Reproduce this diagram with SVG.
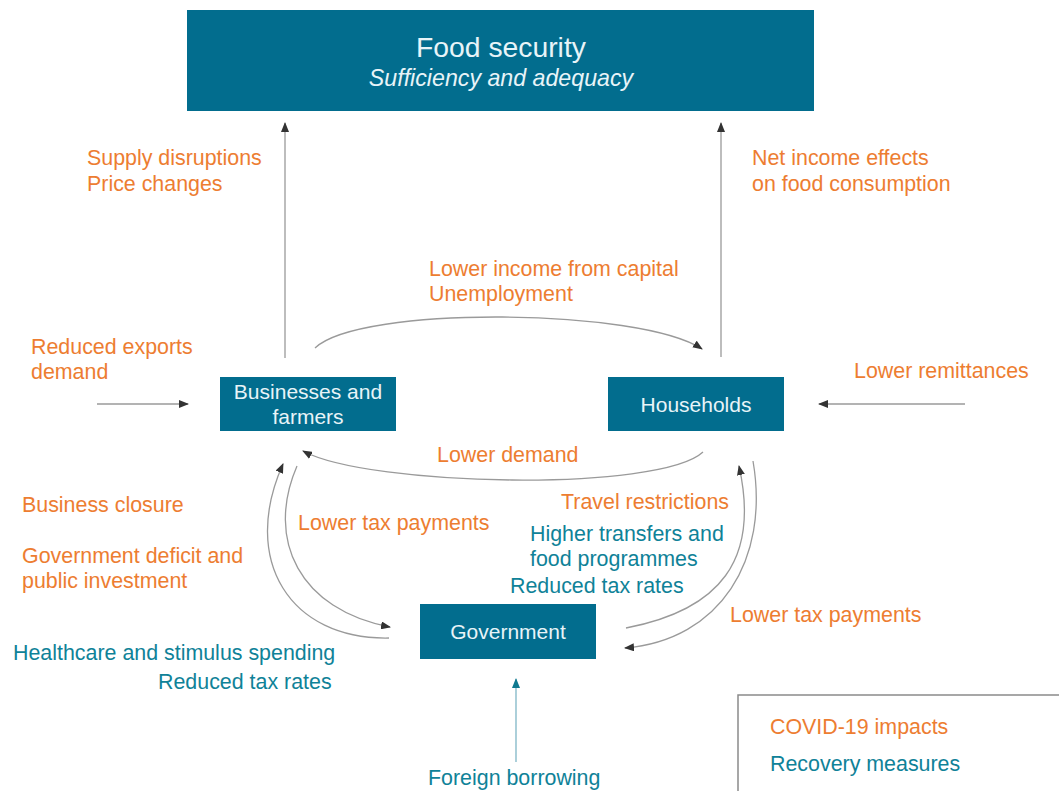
<svg xmlns="http://www.w3.org/2000/svg" width="1059" height="791" viewBox="0 0 1059 791">
<style>
.box{fill:#026d8e}
.bt{font-family:"Liberation Sans",Arial,sans-serif;font-size:21px;fill:#e8f4f8;text-anchor:middle}
.o{font-family:"Liberation Sans",Arial,sans-serif;font-size:21.4px;fill:#ed7d31}
.t{font-family:"Liberation Sans",Arial,sans-serif;font-size:21.4px;fill:#0f8298}
.c{fill:none;stroke:#9a9a9a;stroke-width:1.3}
</style>
<defs>
<marker id="ah" markerUnits="userSpaceOnUse" markerWidth="10" markerHeight="8" refX="9" refY="4" orient="auto">
<path d="M0,0 L10,4 L0,8 Z" fill="#333"/>
</marker>
<marker id="aht" markerUnits="userSpaceOnUse" markerWidth="10" markerHeight="8" refX="9" refY="4" orient="auto">
<path d="M0,0 L10,4 L0,8 Z" fill="#0f7a90"/>
</marker>
</defs>
<rect width="1059" height="791" fill="#fff"/>

<g id="food-security">
<rect class="box" x="187" y="10" width="627" height="101"/>
<text x="501" y="57" style="font-family:'Liberation Sans',Arial,sans-serif;font-size:28.3px;fill:#e8f4f8;text-anchor:middle">Food security</text>
<text x="501" y="86" style="font-family:'Liberation Sans',Arial,sans-serif;font-size:23.2px;font-style:italic;fill:#e8f4f8;text-anchor:middle">Sufficiency and adequacy</text>
</g>

<g id="businesses">
<rect class="box" x="220" y="377" width="176" height="54"/>
<text class="bt" x="308" y="399">Businesses and</text>
<text class="bt" x="308" y="424">farmers</text>
</g>

<g id="households">
<rect class="box" x="608" y="377" width="176" height="54"/>
<text class="bt" x="696" y="412">Households</text>
</g>

<g id="government">
<rect class="box" x="420" y="604" width="176" height="55"/>
<text class="bt" x="508" y="639">Government</text>
</g>

<g id="connectors">
<path class="c" d="M285,358 L285,123" marker-end="url(#ah)"/>
<path class="c" d="M721,357 L721,123" marker-end="url(#ah)"/>
<path class="c" d="M315,348 C360,305 640,308 702,349" marker-end="url(#ah)"/>
<path class="c" d="M703,452 C660,492 370,487 303,451" marker-end="url(#ah)"/>
<path class="c" d="M97,404 L188,404" marker-end="url(#ah)"/>
<path class="c" d="M965,404 L819,404" marker-end="url(#ah)"/>
<path class="c" d="M389,638 C290,640 240,560 283,464" marker-end="url(#ah)"/>
<path class="c" d="M297,466 C265,540 300,610 390,627" marker-end="url(#ah)"/>
<path class="c" d="M626,628 C720,610 760,560 739,466" marker-end="url(#ah)"/>
<path class="c" d="M753,461 C770,560 720,640 625,648" marker-end="url(#ah)"/>
<path d="M516,762 L516,679" fill="none" stroke="#7fb6c6" stroke-width="1.3" marker-end="url(#aht)"/>
</g>

<g id="labels">
<text class="o" x="87" y="165">Supply disruptions</text>
<text class="o" x="87" y="191">Price changes</text>
<text class="o" x="752" y="165">Net income effects</text>
<text class="o" x="752" y="191">on food consumption</text>
<text class="o" x="429" y="276">Lower income from capital</text>
<text class="o" x="429" y="301">Unemployment</text>
<text class="o" x="31" y="354">Reduced exports</text>
<text class="o" x="31" y="379">demand</text>
<text class="o" x="854" y="378">Lower remittances</text>
<text class="o" x="437" y="462">Lower demand</text>
<text class="o" x="22" y="512">Business closure</text>
<text class="o" x="22" y="563">Government deficit and</text>
<text class="o" x="22" y="588">public investment</text>
<text class="t" x="13" y="660">Healthcare and stimulus spending</text>
<text class="t" x="158" y="689">Reduced tax rates</text>
<text class="o" x="298" y="530">Lower tax payments</text>
<text class="o" x="561" y="509">Travel restrictions</text>
<text class="t" x="530" y="541">Higher transfers and</text>
<text class="t" x="530" y="566">food programmes</text>
<text class="t" x="510" y="593">Reduced tax rates</text>
<text class="o" x="730" y="622">Lower tax payments</text>
<text class="t" x="428" y="785">Foreign borrowing</text>
</g>

<g id="legend">
<rect x="738" y="695" width="330" height="110" fill="#fff" stroke="#8a8a8a" stroke-width="1.5"/>
<text class="o" x="770" y="734">COVID-19 impacts</text>
<text class="t" x="770" y="771">Recovery measures</text>
</g>
</svg>
